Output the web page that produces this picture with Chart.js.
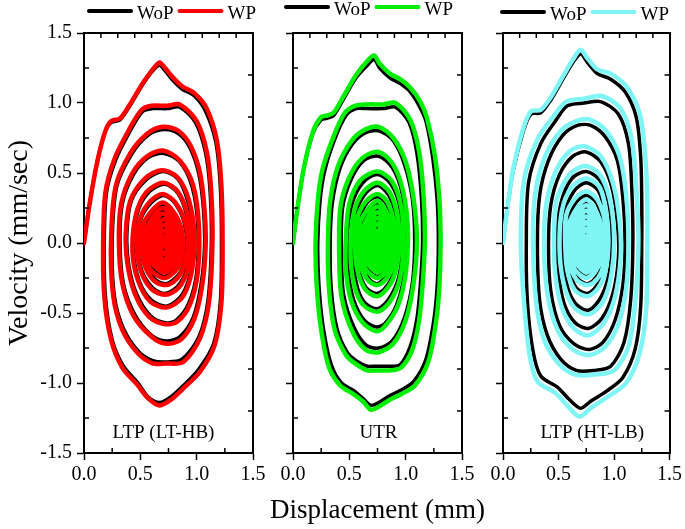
<!DOCTYPE html>
<html>
<head>
<meta charset="utf-8">
<script src="https://cdn.jsdelivr.net/npm/chart.js@4.4.1/dist/chart.umd.min.js"></script>
<style>
    html, body { margin: 0; padding: 0; background: #fff; }
    #wrap { position: relative; width: 685px; height: 529px; }
    #wrap canvas { position: absolute; left: 0; top: 0; }
</style>
</head>
<body>
<div id="wrap">
    <canvas id="p1" width="685" height="529"></canvas>
    <canvas id="p2" width="685" height="529"></canvas>
    <canvas id="p3" width="685" height="529"></canvas>
</div>
<script>
// ---- data (displacement mm, velocity mm/sec) ----
const seriesNames = ['WoP', 'WP'];
const panelLabels = ['LTP (LT-HB)', 'UTR', 'LTP (HT-LB)'];
const xRange = [0, 1.5];
const yRange = [-1.5, 1.5];

// LTP (LT-HB)
const ltpLtHbWoP = [
    [0,0],[0.05,0.28],[0.12,0.59],[0.19,0.80],[0.24,0.86],[0.32,0.88],[0.40,0.97],[0.52,1.13],[0.61,1.23],[0.67,1.27],[0.72,1.23],[0.78,1.17],[0.87,1.10],[0.98,1.05],[1.08,0.94],[1.17,0.72],[1.21,0.40],[1.22,0.0],[1.21,-0.42],[1.15,-0.72],[1.02,-0.90],[0.88,-1.02],[0.77,-1.10],[0.67,-1.14],[0.57,-1.10],[0.48,-1.00],[0.35,-0.88],[0.25,-0.69],[0.19,-0.38],[0.18,0.0],
    [0.20,0.36],[0.28,0.59],[0.41,0.80],[0.52,0.94],[0.61,0.96],[0.74,0.96],[0.85,0.97],[0.99,0.86],[1.08,0.64],[1.12,0.36],[1.13,0.0],[1.10,-0.41],[1.02,-0.67],[0.87,-0.83],[0.72,-0.85],[0.61,-0.84],[0.49,-0.78],[0.35,-0.61],[0.27,-0.38],[0.25,0.0],
    [0.29,0.40],[0.42,0.63],[0.57,0.77],[0.71,0.81],[0.84,0.78],[0.94,0.68],[1.02,0.49],[1.06,0.24],[1.07,-0.02],[1.04,-0.29],[0.97,-0.53],[0.85,-0.67],[0.73,-0.70],[0.60,-0.66],[0.45,-0.51],[0.35,-0.29],[0.32,0.0],
    [0.34,0.28],[0.44,0.49],[0.57,0.61],[0.71,0.64],[0.85,0.58],[0.96,0.40],[1.01,0.12],[1.00,-0.21],[0.93,-0.43],[0.82,-0.55],[0.72,-0.57],[0.59,-0.52],[0.47,-0.37],[0.40,-0.17],[0.38,0.05],
    [0.42,0.30],[0.55,0.45],[0.70,0.51],[0.83,0.46],[0.92,0.30],[0.97,0.06],[0.95,-0.19],[0.87,-0.37],[0.74,-0.45],[0.60,-0.41],[0.49,-0.27],[0.44,-0.06],
    [0.47,0.20],[0.56,0.35],[0.71,0.42],[0.83,0.36],[0.91,0.20],[0.94,0.0],[0.91,-0.19],[0.83,-0.31],[0.72,-0.36],[0.61,-0.32],[0.51,-0.19],[0.48,0.0],
    [0.51,0.18],[0.60,0.29],[0.71,0.34],[0.81,0.28],[0.89,0.14],[0.91,-0.05],[0.86,-0.20],[0.78,-0.27],[0.71,-0.29],[0.62,-0.25],[0.54,-0.14],[0.52,0.02],
    [0.56,0.15],[0.71,0.27],[0.83,0.15],[0.87,-0.03],[0.82,-0.17],[0.71,-0.24],[0.60,-0.17],[0.56,0.0],
    [0.59,0.12],[0.71,0.23],[0.81,0.12],[0.85,-0.02],[0.80,-0.14],[0.71,-0.20],[0.62,-0.13],[0.59,0.0],
    [0.61,0.10],[0.71,0.19],[0.79,0.10],[0.83,-0.02],[0.78,-0.12],[0.71,-0.17],[0.63,-0.11],[0.61,0.0],
    [0.63,0.08],[0.71,0.15],[0.78,0.08],[0.80,-0.02],[0.77,-0.10],[0.71,-0.14],[0.65,-0.09],[0.64,0.0],
    [0.66,0.06],[0.71,0.11],[0.76,0.06],[0.78,-0.01],[0.75,-0.07],[0.71,-0.10],[0.67,-0.06],[0.67,0.0],
    [0.68,0.04],[0.71,0.07],[0.74,0.04],[0.75,0.0],[0.73,-0.04],[0.71,-0.06],[0.69,-0.03],[0.70,0.0],
    [0.71,0.10],[0.715,-0.02]
];
const ltpLtHbWP = [
    [0,0],[0.05,0.28],[0.12,0.59],[0.19,0.80],[0.24,0.87],[0.32,0.89],[0.40,0.98],[0.52,1.14],[0.61,1.24],[0.67,1.29],[0.72,1.25],[0.78,1.19],[0.87,1.12],[0.98,1.07],[1.09,0.96],[1.18,0.73],[1.22,0.40],[1.23,0.0],[1.22,-0.42],[1.16,-0.73],[1.03,-0.92],[0.88,-1.04],[0.77,-1.12],[0.67,-1.16],[0.57,-1.11],[0.47,-1.01],[0.34,-0.89],[0.24,-0.69],[0.18,-0.38],[0.17,0.0],
    [0.19,0.36],[0.27,0.60],[0.40,0.81],[0.51,0.95],[0.60,0.98],[0.74,0.98],[0.85,0.99],[1.00,0.87],[1.09,0.65],[1.13,0.36],[1.14,0.0],[1.11,-0.42],[1.03,-0.68],[0.88,-0.85],[0.72,-0.86],[0.61,-0.86],[0.48,-0.79],[0.34,-0.62],[0.26,-0.38],[0.24,0.0],
    [0.28,0.40],[0.41,0.64],[0.56,0.78],[0.70,0.83],[0.84,0.80],[0.95,0.69],[1.03,0.50],[1.07,0.24],[1.08,-0.02],[1.05,-0.30],[0.98,-0.54],[0.86,-0.69],[0.73,-0.72],[0.60,-0.67],[0.44,-0.52],[0.34,-0.29],[0.31,0.0],
    [0.33,0.28],[0.43,0.50],[0.56,0.62],[0.70,0.66],[0.85,0.59],[0.97,0.41],[1.02,0.12],[1.01,-0.21],[0.94,-0.44],[0.83,-0.56],[0.72,-0.58],[0.58,-0.53],[0.46,-0.38],[0.39,-0.17],[0.37,0.05],
    [0.41,0.30],[0.54,0.46],[0.69,0.52],[0.83,0.47],[0.93,0.31],[0.98,0.06],[0.96,-0.19],[0.88,-0.38],[0.74,-0.46],[0.59,-0.42],[0.48,-0.27],[0.43,-0.06],
    [0.46,0.20],[0.55,0.36],[0.70,0.43],[0.83,0.37],[0.92,0.20],[0.95,0.0],[0.92,-0.19],[0.84,-0.32],[0.72,-0.37],[0.60,-0.33],[0.50,-0.19],[0.47,0.0],
    [0.50,0.18],[0.59,0.30],[0.70,0.35],[0.81,0.29],[0.90,0.14],[0.92,-0.05],[0.87,-0.20],[0.79,-0.28],[0.71,-0.30],[0.61,-0.26],[0.53,-0.14],[0.51,0.02],
    [0.54,0.16],[0.70,0.29],[0.84,0.16],[0.88,-0.03],[0.83,-0.18],[0.71,-0.25],[0.58,-0.18],[0.54,0.0],
    [0.57,0.13],[0.70,0.25],[0.82,0.13],[0.86,-0.02],[0.81,-0.15],[0.71,-0.21],[0.60,-0.14],[0.57,0.0],
    [0.60,0.11],[0.70,0.21],[0.80,0.11],[0.84,-0.02],[0.79,-0.13],[0.71,-0.18],[0.62,-0.12],[0.60,0.0],
    [0.62,0.09],[0.71,0.17],[0.79,0.09],[0.82,-0.02],[0.78,-0.11],[0.71,-0.15],[0.64,-0.10],[0.63,0.0],
    [0.65,0.07],[0.71,0.13],[0.77,0.07],[0.79,-0.01],[0.76,-0.08],[0.71,-0.12],[0.66,-0.07],[0.66,0.0],
    [0.67,0.05],[0.71,0.09],[0.75,0.05],[0.76,0.0],[0.74,-0.05],[0.71,-0.08],[0.68,-0.04],[0.69,0.0],
    [0.70,0.03],[0.72,0.05],[0.73,0.01],[0.72,-0.03],[0.71,-0.01]
];

// UTR
const utrWoP = [
    [0,0],[0.04,0.25],[0.10,0.55],[0.18,0.79],[0.25,0.88],[0.30,0.89],[0.36,0.91],[0.45,1.03],[0.56,1.18],[0.66,1.27],[0.72,1.31],[0.77,1.25],[0.86,1.18],[0.95,1.14],[1.04,1.08],[1.12,0.98],[1.18,0.87],[1.24,0.61],[1.28,0.30],[1.29,0.0],[1.28,-0.30],[1.25,-0.55],[1.18,-0.83],[1.07,-0.99],[0.96,-1.05],[0.86,-1.09],[0.76,-1.14],[0.69,-1.16],[0.62,-1.11],[0.53,-1.05],[0.43,-1.00],[0.34,-0.87],[0.27,-0.61],[0.23,-0.30],[0.22,0.0],
    [0.24,0.30],[0.28,0.51],[0.37,0.74],[0.47,0.91],[0.56,0.96],[0.66,0.96],[0.80,0.96],[0.91,0.97],[1.03,0.86],[1.10,0.64],[1.14,0.32],[1.15,0.0],[1.13,-0.30],[1.10,-0.54],[1.04,-0.74],[0.95,-0.87],[0.86,-0.88],[0.73,-0.88],[0.66,-0.88],[0.56,-0.84],[0.48,-0.78],[0.39,-0.61],[0.34,-0.33],[0.33,0.0],
    [0.35,0.29],[0.42,0.54],[0.53,0.71],[0.65,0.79],[0.77,0.80],[0.89,0.73],[0.99,0.56],[1.06,0.31],[1.08,0.02],[1.06,-0.28],[0.99,-0.53],[0.88,-0.70],[0.76,-0.75],[0.65,-0.73],[0.54,-0.60],[0.45,-0.37],[0.43,-0.08],
    [0.44,0.25],[0.52,0.46],[0.63,0.59],[0.76,0.62],[0.88,0.54],[0.97,0.35],[1.00,0.08],[0.99,-0.21],[0.92,-0.44],[0.82,-0.57],[0.74,-0.60],[0.63,-0.55],[0.54,-0.41],[0.49,-0.20],[0.49,0.05],
    [0.52,0.27],[0.62,0.43],[0.75,0.49],[0.87,0.42],[0.95,0.25],[0.97,0.0],[0.94,-0.24],[0.85,-0.40],[0.75,-0.47],[0.63,-0.42],[0.56,-0.28],[0.53,-0.05],
    [0.56,0.21],[0.64,0.35],[0.75,0.41],[0.85,0.34],[0.92,0.17],[0.93,-0.04],[0.89,-0.22],[0.81,-0.33],[0.74,-0.36],[0.65,-0.32],[0.58,-0.18],[0.57,0.0],
    [0.59,0.17],[0.66,0.29],[0.75,0.33],[0.83,0.28],[0.89,0.12],[0.90,-0.05],[0.86,-0.19],[0.79,-0.27],[0.74,-0.29],[0.67,-0.25],[0.61,-0.13],[0.60,0.02],
    [0.62,0.15],[0.75,0.28],[0.85,0.15],[0.88,-0.03],[0.84,-0.17],[0.75,-0.24],[0.65,-0.17],[0.62,0.0],
    [0.64,0.12],[0.75,0.24],[0.83,0.12],[0.86,-0.02],[0.82,-0.14],[0.75,-0.20],[0.67,-0.13],[0.64,0.0],
    [0.66,0.10],[0.75,0.20],[0.81,0.10],[0.84,-0.02],[0.80,-0.12],[0.75,-0.17],[0.68,-0.11],[0.67,0.0],
    [0.68,0.08],[0.75,0.16],[0.80,0.08],[0.82,-0.02],[0.79,-0.10],[0.75,-0.14],[0.70,-0.09],[0.69,0.0],
    [0.71,0.06],[0.75,0.12],[0.78,0.06],[0.80,-0.01],[0.77,-0.07],[0.75,-0.11],[0.72,-0.06],[0.72,0.0],
    [0.73,0.04],[0.75,0.08],[0.77,0.04],[0.78,0.0],[0.76,-0.04],[0.75,-0.07],[0.74,-0.03],[0.74,0.0],
    [0.75,0.10],[0.755,-0.02]
];
const utrWP = [
    [0,0],[0.04,0.25],[0.10,0.55],[0.18,0.80],[0.25,0.90],[0.30,0.91],[0.36,0.93],[0.45,1.05],[0.56,1.20],[0.66,1.30],[0.72,1.34],[0.77,1.28],[0.86,1.21],[0.95,1.17],[1.04,1.11],[1.13,1.01],[1.19,0.89],[1.26,0.62],[1.30,0.30],[1.31,0.0],[1.30,-0.30],[1.27,-0.56],[1.20,-0.85],[1.08,-1.02],[0.96,-1.08],[0.86,-1.12],[0.76,-1.17],[0.69,-1.19],[0.62,-1.13],[0.52,-1.07],[0.42,-1.02],[0.32,-0.89],[0.25,-0.62],[0.21,-0.30],[0.20,0.0],
    [0.22,0.30],[0.26,0.52],[0.36,0.76],[0.46,0.93],[0.55,0.98],[0.66,0.99],[0.80,0.99],[0.91,1.00],[1.04,0.88],[1.12,0.65],[1.16,0.32],[1.17,0.0],[1.15,-0.30],[1.12,-0.55],[1.06,-0.76],[0.96,-0.89],[0.86,-0.91],[0.73,-0.91],[0.66,-0.91],[0.55,-0.86],[0.47,-0.80],[0.37,-0.62],[0.32,-0.33],[0.31,0.0],
    [0.33,0.30],[0.40,0.55],[0.52,0.73],[0.64,0.81],[0.76,0.83],[0.89,0.75],[1.00,0.58],[1.07,0.32],[1.10,0.02],[1.07,-0.29],[1.00,-0.55],[0.89,-0.72],[0.76,-0.78],[0.64,-0.76],[0.52,-0.62],[0.43,-0.38],[0.41,-0.08],
    [0.42,0.25],[0.50,0.47],[0.62,0.61],[0.76,0.65],[0.89,0.56],[0.98,0.36],[1.02,0.08],[1.00,-0.22],[0.93,-0.45],[0.82,-0.59],[0.74,-0.63],[0.62,-0.57],[0.52,-0.42],[0.47,-0.20],[0.47,0.05],
    [0.50,0.28],[0.60,0.45],[0.75,0.51],[0.88,0.44],[0.96,0.26],[0.98,0.0],[0.95,-0.25],[0.86,-0.42],[0.75,-0.49],[0.62,-0.44],[0.54,-0.29],[0.51,-0.05],
    [0.54,0.22],[0.63,0.37],[0.75,0.43],[0.86,0.36],[0.93,0.18],[0.94,-0.04],[0.90,-0.23],[0.82,-0.34],[0.74,-0.38],[0.64,-0.33],[0.57,-0.19],[0.55,0.0],
    [0.57,0.18],[0.65,0.30],[0.75,0.35],[0.84,0.29],[0.90,0.13],[0.91,-0.05],[0.87,-0.20],[0.80,-0.28],[0.74,-0.30],[0.66,-0.26],[0.59,-0.14],[0.58,0.02],
    [0.60,0.16],[0.75,0.30],[0.86,0.16],[0.89,-0.03],[0.85,-0.18],[0.75,-0.25],[0.64,-0.18],[0.61,0.0],
    [0.63,0.13],[0.75,0.26],[0.84,0.13],[0.87,-0.02],[0.83,-0.15],[0.75,-0.21],[0.66,-0.14],[0.63,0.0],
    [0.65,0.11],[0.75,0.22],[0.82,0.11],[0.85,-0.02],[0.81,-0.13],[0.75,-0.18],[0.67,-0.12],[0.66,0.0],
    [0.67,0.09],[0.75,0.18],[0.81,0.09],[0.83,-0.02],[0.80,-0.11],[0.75,-0.15],[0.69,-0.10],[0.68,0.0],
    [0.70,0.07],[0.75,0.14],[0.79,0.07],[0.81,-0.01],[0.78,-0.08],[0.75,-0.12],[0.71,-0.07],[0.71,0.0],
    [0.72,0.05],[0.75,0.09],[0.78,0.05],[0.79,0.0],[0.77,-0.05],[0.75,-0.08],[0.73,-0.04],[0.73,0.0],
    [0.74,0.03],[0.76,0.05],[0.77,0.01],[0.76,-0.03],[0.75,-0.01]
];

// LTP (HT-LB)
const ltpHtLbWoP = [
    [0,0],[0.04,0.25],[0.09,0.51],[0.18,0.79],[0.25,0.92],[0.34,0.93],[0.43,1.02],[0.54,1.17],[0.63,1.29],[0.70,1.35],[0.76,1.29],[0.85,1.21],[0.97,1.17],[1.10,1.08],[1.20,0.90],[1.24,0.62],[1.25,0.30],[1.25,0.0],[1.24,-0.46],[1.19,-0.76],[1.08,-0.96],[0.93,-1.06],[0.79,-1.13],[0.70,-1.18],[0.60,-1.12],[0.49,-1.03],[0.34,-0.95],[0.27,-0.77],[0.22,-0.42],[0.21,0.0],
    [0.23,0.43],[0.34,0.71],[0.48,0.88],[0.58,0.98],[0.73,1.00],[0.88,1.01],[1.04,0.92],[1.13,0.71],[1.16,0.39],[1.17,0.0],[1.15,-0.41],[1.09,-0.71],[0.97,-0.88],[0.82,-0.91],[0.66,-0.91],[0.52,-0.83],[0.40,-0.66],[0.33,-0.41],[0.31,0.0],
    [0.33,0.34],[0.41,0.59],[0.54,0.77],[0.67,0.84],[0.79,0.84],[0.92,0.76],[1.03,0.59],[1.08,0.32],[1.10,0.0],[1.08,-0.30],[1.01,-0.55],[0.90,-0.71],[0.78,-0.76],[0.64,-0.72],[0.51,-0.59],[0.43,-0.34],[0.41,-0.02],
    [0.43,0.27],[0.51,0.49],[0.63,0.62],[0.75,0.65],[0.88,0.58],[0.98,0.40],[1.03,0.15],[1.04,-0.10],[0.99,-0.36],[0.89,-0.54],[0.77,-0.61],[0.65,-0.57],[0.55,-0.43],[0.50,-0.21],[0.49,0.04],
    [0.52,0.28],[0.62,0.46],[0.75,0.51],[0.87,0.45],[0.95,0.29],[0.98,0.05],[0.96,-0.20],[0.88,-0.39],[0.77,-0.48],[0.65,-0.43],[0.57,-0.28],[0.54,-0.05],
    [0.56,0.22],[0.64,0.37],[0.75,0.43],[0.86,0.37],[0.92,0.20],[0.93,0.0],[0.91,-0.20],[0.84,-0.31],[0.76,-0.36],[0.66,-0.32],[0.60,-0.19],[0.58,0.0],
    [0.60,0.19],[0.67,0.30],[0.75,0.34],[0.84,0.29],[0.90,0.14],[0.91,-0.05],[0.88,-0.19],[0.81,-0.27],[0.75,-0.29],[0.67,-0.25],[0.62,-0.13],[0.61,0.02],
    [0.63,0.16],[0.75,0.29],[0.86,0.16],[0.89,-0.03],[0.84,-0.17],[0.75,-0.24],[0.65,-0.17],[0.63,0.0],
    [0.65,0.13],[0.75,0.25],[0.84,0.13],[0.87,-0.02],[0.82,-0.14],[0.75,-0.20],[0.67,-0.13],[0.65,0.0],
    [0.67,0.11],[0.75,0.21],[0.82,0.11],[0.85,-0.02],[0.80,-0.12],[0.75,-0.17],[0.68,-0.11],[0.67,0.0],
    [0.69,0.09],[0.75,0.17],[0.80,0.09],[0.83,-0.02],[0.79,-0.10],[0.75,-0.14],[0.70,-0.09],[0.69,0.0],
    [0.71,0.07],[0.75,0.13],[0.78,0.07],[0.80,-0.01],[0.77,-0.07],[0.75,-0.11],[0.72,-0.06],[0.72,0.0],
    [0.73,0.05],[0.75,0.09],[0.77,0.04],[0.78,0.0],[0.76,-0.04],[0.75,-0.07],[0.74,-0.03],[0.74,0.0],
    [0.75,0.12],[0.755,-0.02]
];
const ltpHtLbWP = [
    [0,0],[0.04,0.25],[0.09,0.52],[0.18,0.81],[0.25,0.94],[0.34,0.95],[0.43,1.04],[0.54,1.19],[0.63,1.31],[0.70,1.38],[0.76,1.32],[0.85,1.24],[0.97,1.21],[1.11,1.12],[1.23,0.93],[1.28,0.64],[1.30,0.30],[1.30,0.0],[1.29,-0.48],[1.23,-0.79],[1.11,-1.00],[0.94,-1.10],[0.79,-1.18],[0.69,-1.24],[0.59,-1.17],[0.47,-1.07],[0.31,-0.99],[0.24,-0.80],[0.19,-0.43],[0.16,0.0],
    [0.19,0.45],[0.31,0.74],[0.46,0.91],[0.57,1.01],[0.73,1.03],[0.89,1.05],[1.06,0.96],[1.16,0.74],[1.20,0.40],[1.22,0.0],[1.19,-0.43],[1.13,-0.74],[1.00,-0.91],[0.82,-0.94],[0.65,-0.94],[0.50,-0.86],[0.37,-0.69],[0.30,-0.43],[0.27,0.0],
    [0.29,0.35],[0.38,0.62],[0.52,0.80],[0.66,0.87],[0.79,0.88],[0.93,0.80],[1.05,0.62],[1.11,0.34],[1.13,0.0],[1.11,-0.32],[1.04,-0.58],[0.92,-0.74],[0.78,-0.80],[0.63,-0.76],[0.49,-0.62],[0.40,-0.36],[0.37,-0.02],
    [0.39,0.28],[0.48,0.52],[0.61,0.66],[0.74,0.69],[0.88,0.62],[0.99,0.43],[1.05,0.16],[1.06,-0.10],[1.01,-0.38],[0.91,-0.57],[0.77,-0.66],[0.64,-0.61],[0.53,-0.46],[0.47,-0.22],[0.46,0.04],
    [0.48,0.30],[0.60,0.49],[0.74,0.55],[0.87,0.49],[0.96,0.32],[1.00,0.06],[0.98,-0.21],[0.90,-0.42],[0.77,-0.51],[0.64,-0.46],[0.55,-0.30],[0.51,-0.06],
    [0.53,0.23],[0.62,0.40],[0.75,0.46],[0.87,0.40],[0.93,0.22],[0.95,0.0],[0.92,-0.21],[0.85,-0.33],[0.76,-0.38],[0.65,-0.34],[0.58,-0.20],[0.56,0.0],
    [0.57,0.20],[0.65,0.32],[0.75,0.37],[0.85,0.31],[0.92,0.15],[0.93,-0.05],[0.89,-0.20],[0.82,-0.28],[0.75,-0.30],[0.66,-0.26],[0.60,-0.14],[0.59,0.02],
    [0.61,0.17],[0.75,0.31],[0.87,0.17],[0.90,-0.03],[0.85,-0.18],[0.75,-0.25],[0.64,-0.18],[0.61,0.0],
    [0.63,0.14],[0.75,0.27],[0.85,0.14],[0.88,-0.02],[0.83,-0.15],[0.75,-0.21],[0.66,-0.14],[0.63,0.0],
    [0.65,0.12],[0.75,0.23],[0.83,0.12],[0.86,-0.02],[0.81,-0.13],[0.75,-0.18],[0.67,-0.12],[0.66,0.0],
    [0.67,0.10],[0.75,0.19],[0.81,0.10],[0.84,-0.02],[0.80,-0.11],[0.75,-0.15],[0.69,-0.10],[0.68,0.0],
    [0.70,0.08],[0.75,0.15],[0.79,0.08],[0.81,-0.01],[0.78,-0.08],[0.75,-0.12],[0.71,-0.07],[0.71,0.0],
    [0.72,0.06],[0.75,0.10],[0.78,0.05],[0.79,0.0],[0.77,-0.05],[0.75,-0.08],[0.73,-0.04],[0.73,0.0],
    [0.74,0.03],[0.76,0.05],[0.77,0.01],[0.76,-0.03],[0.75,-0.01]
];

// ---- drawing ----
const serif = "'Liberation Serif', 'Times New Roman', serif";

function toXY(arr) {
    return arr.map(p => ({ x: p[0], y: p[1] }));
}
function isMajor(v) {
    return Math.abs(v * 2 - Math.round(v * 2)) < 1e-6;
}

// inward minor ticks, top/right frame ticks, legend, panel caption, shared x title
const panelDecor = {
    id: 'panelDecor',
    afterDraw(chart, args, opts) {
        const ctx = chart.ctx;
        const a = chart.chartArea;
        const sx = chart.scales.x, sy = chart.scales.y;
        const st = chart.scales.xTop, sr = chart.scales.yRight;
        ctx.save();
        ctx.strokeStyle = '#000';
        ctx.lineWidth = 1.5;
        ctx.beginPath();
        sx.ticks.forEach(t => {
            if (isMajor(t.value)) return;
            const px = sx.getPixelForValue(t.value);
            ctx.moveTo(px, a.bottom); ctx.lineTo(px, a.bottom - 5);
        });
        sy.ticks.forEach(t => {
            if (isMajor(t.value)) return;
            const py = sy.getPixelForValue(t.value);
            ctx.moveTo(a.left, py); ctx.lineTo(a.left + 5, py);
        });
        st.ticks.forEach((t, i) => {
            if (i === 0 || i === st.ticks.length - 1) return;
            const px = st.getPixelForValue(t.value);
            ctx.moveTo(px, a.top); ctx.lineTo(px, a.top + 5);
        });
        sr.ticks.forEach((t, i) => {
            if (i === 0 || i === sr.ticks.length - 1) return;
            const py = sr.getPixelForValue(t.value);
            ctx.moveTo(a.right, py); ctx.lineTo(a.right - 5, py);
        });
        ctx.stroke();

        // legend
        ctx.font = '19px ' + serif;
        ctx.fillStyle = '#000';
        ctx.textBaseline = 'alphabetic';
        ctx.textAlign = 'left';
        ctx.lineCap = 'round';
        ctx.lineWidth = 4;
        let lx = a.left + opts.legendDx;
        const ly = opts.legendY;
        chart.data.datasets.forEach(ds => {
            ctx.strokeStyle = ds.borderColor;
            ctx.beginPath();
            ctx.moveTo(lx + 2, ly);
            ctx.lineTo(lx + 44, ly);
            ctx.stroke();
            lx += 50;
            ctx.fillText(ds.label, lx, ly + 7.5);
            lx += ctx.measureText(ds.label).width + 4;
        });

        // caption inside the plot
        ctx.textAlign = 'center';
        ctx.fillText(opts.label, (a.left + a.right) / 2 + opts.labelDx, a.bottom - 15);

        // axis title under the middle panel (not squeezed to panel width)
        if (opts.xTitle) {
            ctx.font = '27px ' + serif;
            ctx.textBaseline = 'middle';
            ctx.fillText(opts.xTitle, (a.left + a.right) / 2, 511);
        }
        ctx.restore();
    }
};

function makePanel(id, woP, wP, color, p) {
    return new Chart(document.getElementById(id), {
        type: 'scatter',
        data: {
            datasets: [
                { label: seriesNames[0], data: toXY(woP), borderColor: '#000', borderWidth: 3.5, order: 2,
                  showLine: true, pointRadius: 0, tension: 0.3, fill: false, borderJoinStyle: 'round', borderCapStyle: 'round' },
                { label: seriesNames[1], data: toXY(wP), borderColor: color, borderWidth: 4.5, order: 1,
                  showLine: true, pointRadius: 0, tension: 0.3, fill: false, borderJoinStyle: 'round', borderCapStyle: 'round' }
            ]
        },
        options: {
            responsive: false,
            animation: false,
            devicePixelRatio: 1,
            events: [],
            layout: { padding: { left: p.padLeft, right: p.padRight, top: 33, bottom: 0 } },
            scales: {
                x: {
                    type: 'linear', position: 'bottom', min: xRange[0], max: xRange[1],
                    ticks: { stepSize: 0.25, autoSkip: false, maxRotation: 0, padding: 3, color: '#000',
                             font: { family: serif, size: 20 },
                             callback: v => isMajor(v) ? v.toFixed(1) : '' },
                    grid: { drawOnChartArea: false, drawTicks: true, tickLength: 7, tickWidth: 1.5,
                            tickColor: c => (c.tick && isMajor(c.tick.value)) ? '#000' : 'rgba(0,0,0,0)' },
                    border: { display: true, color: '#000', width: 2 },
                    afterFit: s => { s.height = 76; }
                },
                y: {
                    type: 'linear', position: 'left', min: yRange[0], max: yRange[1],
                    ticks: { display: p.yLabels, stepSize: 0.25, autoSkip: false, padding: 5, color: '#000',
                             font: { family: serif, size: 20 },
                             callback: v => isMajor(v) ? v.toFixed(1) : '' },
                    grid: { drawOnChartArea: false, drawTicks: true, tickLength: 7, tickWidth: 1.5,
                            tickColor: c => (c.tick && isMajor(c.tick.value)) ? '#000' : 'rgba(0,0,0,0)' },
                    border: { display: true, color: '#000', width: 2 },
                    title: { display: p.yLabels, text: 'Velocity (mm/sec)', color: '#000',
                             font: { family: serif, size: 28 }, padding: { top: 3, bottom: 0 } },
                    afterFit: s => { s.width = p.yWidth; }
                },
                xTop: {
                    type: 'linear', position: 'top', min: xRange[0], max: xRange[1],
                    ticks: { display: false, stepSize: 0.15 },
                    grid: { drawOnChartArea: false, drawTicks: false },
                    border: { display: true, color: '#000', width: 2 },
                    afterFit: s => { s.height = 0; }
                },
                yRight: {
                    type: 'linear', position: 'right', min: yRange[0], max: yRange[1],
                    ticks: { display: false, stepSize: 0.3 },
                    grid: { drawOnChartArea: false, drawTicks: false },
                    border: { display: true, color: '#000', width: 2 },
                    afterFit: s => { s.width = 0; }
                }
            },
            plugins: {
                legend: { display: false },
                tooltip: { enabled: false },
                panelDecor: { legendDx: p.legendDx, legendY: p.legendY, label: p.label, labelDx: p.labelDx,
                              xTitle: p.xTitle }
            }
        },
        plugins: [panelDecor]
    });
}

makePanel('p1', ltpLtHbWoP, ltpLtHbWP, '#ff0000',
    { padLeft: 0, padRight: 432, yWidth: 84, yLabels: true, xTitle: '',
      legendDx: 3, legendY: 11, label: panelLabels[0], labelDx: -5 });
makePanel('p2', utrWoP, utrWP, '#00ee00',
    { padLeft: 283, padRight: 223, yWidth: 10, yLabels: false, xTitle: 'Displacement (mm)',
      legendDx: -9, legendY: 7, label: panelLabels[1], labelDx: 1 });
makePanel('p3', ltpHtLbWoP, ltpHtLbWP, '#7ff5f5',
    { padLeft: 493, padRight: 13, yWidth: 10, yLabels: false, xTitle: '',
      legendDx: -3, legendY: 12, label: panelLabels[2], labelDx: 6 });
</script>
</body>
</html>
